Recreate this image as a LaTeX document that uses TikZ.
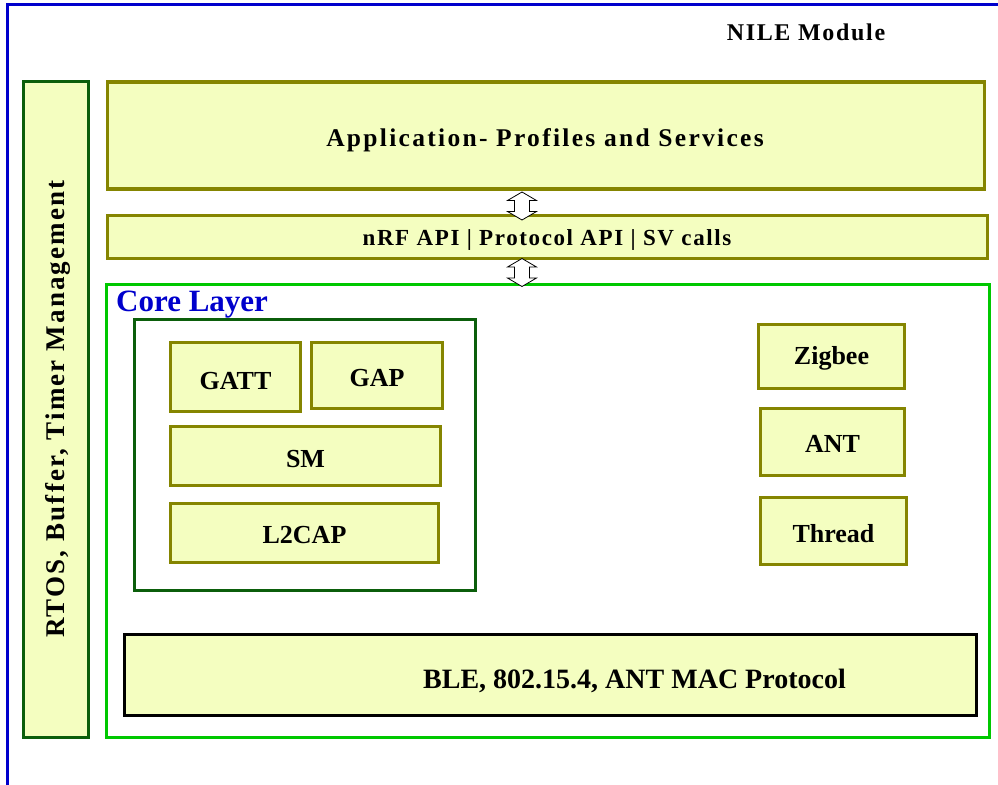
\documentclass[tikz,border=0pt]{standalone}
\usepackage{fontspec}
\setmainfont{Liberation Serif}
\definecolor{boxfill}{HTML}{F4FEC0}
\definecolor{olivebd}{HTML}{858500}
\definecolor{dkgreen}{HTML}{0B5E0B}
\definecolor{coregreen}{HTML}{00C800}
\definecolor{outerblue}{HTML}{0000CC}
\newcommand\myfs[2]{\fontsize{#1}{#1}\selectfont\addfontfeatures{LetterSpace=#2}}
\begin{document}
\begin{tikzpicture}[x=1pt,y=-1pt,
  layerbox/.style={draw=olivebd, fill=boxfill, line width=3.2pt, inner sep=0pt},
  lbl/.style={inner sep=0pt, font=\bfseries\myfs{26}{0}},
  modbox/.style={layerbox},
  plain/.style={inner sep=0pt},
  pics/dblarrow/.style={code={
    \draw[black, fill=white, line width=0.8pt, line join=miter]
      (0,-14) -- (14.5,-5.5) -- (7.5,-5.5) -- (7.5,5.5) -- (14.5,5.5) -- (0,14)
      -- (-14.5,5.5) -- (-7.5,5.5) -- (-7.5,-5.5) -- (-14.5,-5.5) -- cycle;}}]
\useasboundingbox (0,0) rectangle (998,784);
\clip (0,0) rectangle (998,784);
% outer module frame
\draw[outerblue, line width=3pt] (7,5) rectangle (1012,800);
\node[plain, font=\bfseries\myfs{24}{7}] (nile) at (806,32) {NILE Module};
% RTOS side bar
\node[draw=dkgreen, fill=boxfill, line width=2.8pt, minimum width=65.5pt, minimum height=656pt]
  (rtos) at (56,409.5) {};
\node[plain, rotate=90, font=\bfseries\myfs{27}{8}] (rtostext) at (58,409) {RTOS, Buffer, Timer Management};
% application
\node[layerbox, minimum width=877pt, minimum height=107pt] (app) at (546,135.5) {};
\node[plain, font=\bfseries\myfs{25.5}{9}] (apptext) at (545,140) {Application- Profiles and Services};
% API
\node[layerbox, minimum width=880pt, minimum height=43pt] (nrf) at (547.5,237) {};
\node[plain, font=\bfseries\myfs{23}{7}] (nrftext) at (547,240) {nRF API | Protocol API | SV calls};
% core layer
\node[draw=coregreen, line width=2.8pt, minimum width=883pt, minimum height=453pt]
  (core) at (548,511) {};
\node[plain, anchor=base west, text=outerblue, font=\bfseries\myfs{31}{0}] (coretext) at (116,311) {Core Layer};
% BLE stack box
\node[draw=dkgreen, line width=2.8pt, minimum width=341pt, minimum height=271pt]
  (stack) at (305,455) {};
\node[modbox, minimum width=130pt, minimum height=69pt, label={[lbl, yshift=-4pt]center:GATT}] (gatt) at (235.5,377) {};
\node[modbox, minimum width=131pt, minimum height=66pt, label={[lbl, yshift=-3pt]center:GAP}] (gap) at (377,375.5) {};
\node[modbox, minimum width=270pt, minimum height=59pt, label={[lbl, yshift=-3pt]center:SM}] (sm) at (305.5,456) {};
\node[modbox, minimum width=268pt, minimum height=59pt, label={[lbl, yshift=-2pt]center:L2CAP}] (l2cap) at (304.5,533) {};
% other protocols
\node[modbox, minimum width=146pt, minimum height=64pt, label={[lbl, yshift=-2pt]center:Zigbee}] (zigbee) at (831.5,356.5) {};
\node[modbox, minimum width=144pt, minimum height=67pt, label={[lbl, yshift=-2pt]center:ANT}] (ant) at (832.5,442) {};
\node[modbox, minimum width=146pt, minimum height=67pt, label={[lbl, yshift=-3pt]center:Thread}] (thread) at (833.5,531) {};
% MAC
\node[draw=black, fill=boxfill, line width=3.2pt, minimum width=852pt, minimum height=81pt]
  (mac) at (550.5,675) {};
\node[plain, font=\bfseries\myfs{28}{0}] (mactext) at (634.5,681) {BLE, 802.15.4, ANT MAC Protocol};
% interface arrows
\pic (arr1) at (522,206) {dblarrow};
\pic (arr2) at (522,272.5) {dblarrow};
\end{tikzpicture}
\end{document}
